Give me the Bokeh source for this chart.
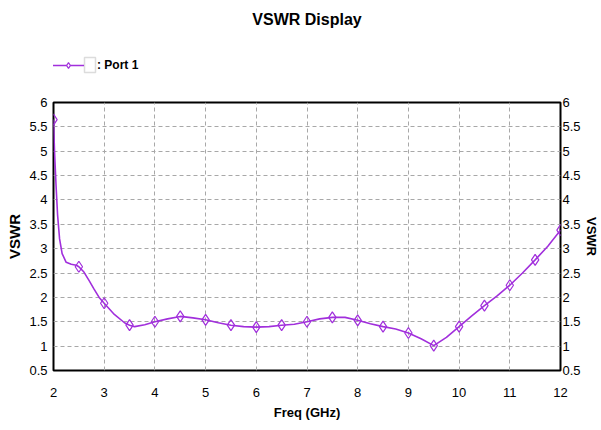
import math
from bokeh.plotting import figure
from bokeh.layouts import column
from bokeh.models import (Range1d, LinearAxis, FixedTicker, Legend, LegendItem,
                          BoxAnnotation)
from bokeh.embed import file_html
from bokeh.resources import INLINE

# ---- data ----
freq_markers = [2.0, 2.5, 3.0, 3.5, 4.0, 4.5, 5.0, 5.5, 6.0, 6.5, 7.0,
                7.5, 8.0, 8.5, 9.0, 9.5, 10.0, 10.5, 11.0, 11.5, 12.0]
vswr_markers = [5.65, 2.63, 1.88, 1.43, 1.50, 1.61, 1.54, 1.43, 1.39, 1.43, 1.50,
                1.59, 1.53, 1.40, 1.27, 1.01, 1.40, 1.83, 2.25, 2.77, 3.38]

freq_curve = [2.0, 2.02, 2.05, 2.08, 2.12, 2.17, 2.25, 2.35, 2.45, 2.5, 2.6, 2.7,
              2.8, 2.9, 3.0, 3.2, 3.4, 3.5, 3.6, 3.8, 4.0, 4.25, 4.5, 4.75, 5.0,
              5.25, 5.5, 5.75, 6.0, 6.25, 6.5, 6.75, 7.0, 7.25, 7.5, 7.75, 8.0,
              8.25, 8.5, 8.75, 9.0, 9.25, 9.5, 9.75, 10.0, 10.25, 10.5, 10.75,
              11.0, 11.25, 11.5, 11.75, 12.0]
vswr_curve = [5.65, 5.0, 4.3, 3.7, 3.2, 2.9, 2.72, 2.68, 2.66, 2.63, 2.52, 2.35,
              2.17, 2.0, 1.88, 1.65, 1.48, 1.43, 1.40, 1.44, 1.50, 1.56, 1.61,
              1.58, 1.54, 1.48, 1.43, 1.40, 1.39, 1.40, 1.43, 1.45, 1.50, 1.56,
              1.59, 1.59, 1.53, 1.46, 1.40, 1.35, 1.27, 1.15, 1.01, 1.18, 1.40,
              1.62, 1.83, 2.03, 2.25, 2.50, 2.77, 3.05, 3.38]

x_ticks = [2, 3, 4, 5, 6, 7, 8, 9, 10, 11, 12]
y_ticks = [0.5, 1, 1.5, 2, 2.5, 3, 3.5, 4, 4.5, 5, 5.5, 6]

title_text = "VSWR Display"
series_name = "Port 1"
x_label = "Freq (GHz)"
y_label = "VSWR"

PURPLE = "#a12fdc"
FONT = "'Liberation Sans', Arial, sans-serif"

# ---------------- header: title + legend ----------------
h = figure(width=601, height=80, output_backend="svg", toolbar_location=None,
           x_range=Range1d(0, 1), y_range=Range1d(0, 1),
           x_axis_location=None, y_axis_location=None,
           min_border_left=0, min_border_right=0, min_border_top=28, min_border_bottom=0)
h.outline_line_color = None
h.xgrid.visible = False
h.ygrid.visible = False
h.title.text = title_text
h.title.align = "center"
h.title.text_font = FONT
h.title.text_font_size = "16px"
h.title.text_font_style = "bold"
h.title.text_color = "black"
h.title.standoff = 2

# the series repeated in the header only to supply the legend swatch
# (its data lie outside the header's ranges, so nothing is drawn there)
lg_line = h.line(freq_curve, vswr_curve, line_color=PURPLE, line_width=1.6)
lg_mark = h.scatter(freq_markers, vswr_markers, marker="diamond", size=11,
                    line_color=PURPLE, line_width=1.2, fill_color="white")

legend = Legend(items=[LegendItem(label=": " + series_name, renderers=[lg_line, lg_mark])],
                location=(-1, 8), padding=0, margin=0, spacing=0,
                glyph_width=32, glyph_height=14, label_height=14,
                label_standoff=13, border_line_color=None, background_fill_alpha=0,
                label_text_font=FONT, label_text_font_size="12px",
                label_text_font_style="bold", label_text_color="black")
h.add_layout(legend, "center")

# the legend's check box
box = BoxAnnotation(left=84, right=95, top=57, bottom=72,
                    left_units="canvas", right_units="canvas",
                    top_units="canvas", bottom_units="canvas",
                    fill_color="white", fill_alpha=1.0,
                    line_color="#8c8c8c", line_width=1.5)
h.add_layout(box)

# ---------------- main chart ----------------
p = figure(width=601, height=350, output_backend="svg", toolbar_location=None,
           x_range=Range1d(2, 12), y_range=Range1d(0.5, 6),
           min_border_left=53, min_border_right=41, min_border_top=22,
           min_border_bottom=60, y_axis_location=None)
p.background_fill_color = "white"
p.border_fill_color = "white"
p.outline_line_color = "black"
p.outline_line_width = 2

def style_axis(ax, ticks):
    ax.ticker = FixedTicker(ticks=ticks)
    ax.major_label_text_font = FONT
    ax.major_label_text_font_size = "13px"
    ax.major_label_text_color = "black"
    ax.axis_line_color = None
    ax.major_tick_line_color = None
    ax.minor_tick_line_color = None
    ax.major_tick_out = 0
    ax.major_tick_in = 0
    ax.minor_tick_out = 0
    ax.minor_tick_in = 0
    ax.axis_label_text_font = FONT
    ax.axis_label_text_font_style = "bold"
    ax.axis_label_text_font_size = "13px"
    ax.axis_label_text_color = "black"

xa = p.xaxis[0]
style_axis(xa, x_ticks)
xa.axis_label = x_label
xa.major_label_standoff = 17
xa.axis_label_standoff = 5

ya = LinearAxis()
style_axis(ya, y_ticks)
ya.axis_label = y_label
ya.major_label_standoff = 6
ya.axis_label_standoff = 3
ya.axis_label_text_font_size = "15px"
p.add_layout(ya, "left")

yr = LinearAxis()
style_axis(yr, y_ticks)
yr.axis_label = y_label
yr.major_label_standoff = 2
yr.axis_label_standoff = 0
yr.axis_label_text_font_size = "13px"
p.add_layout(yr, "right")

p.xgrid.ticker = FixedTicker(ticks=x_ticks)
p.ygrid.ticker = FixedTicker(ticks=y_ticks)
for g in (p.xgrid[0], p.ygrid[0]):
    g.grid_line_color = "#a8a8a8"
    g.grid_line_dash = "4 3"
    g.grid_line_width = 1

p.line(freq_curve, vswr_curve, line_color=PURPLE, line_width=1.6)
p.scatter(freq_markers, vswr_markers, marker="diamond", size=11,
          line_color=PURPLE, line_width=1.2, fill_color="white", fill_alpha=0.0)

layout = column(h, p, spacing=0)
open("out.html", "w").write(file_html(layout, INLINE))
